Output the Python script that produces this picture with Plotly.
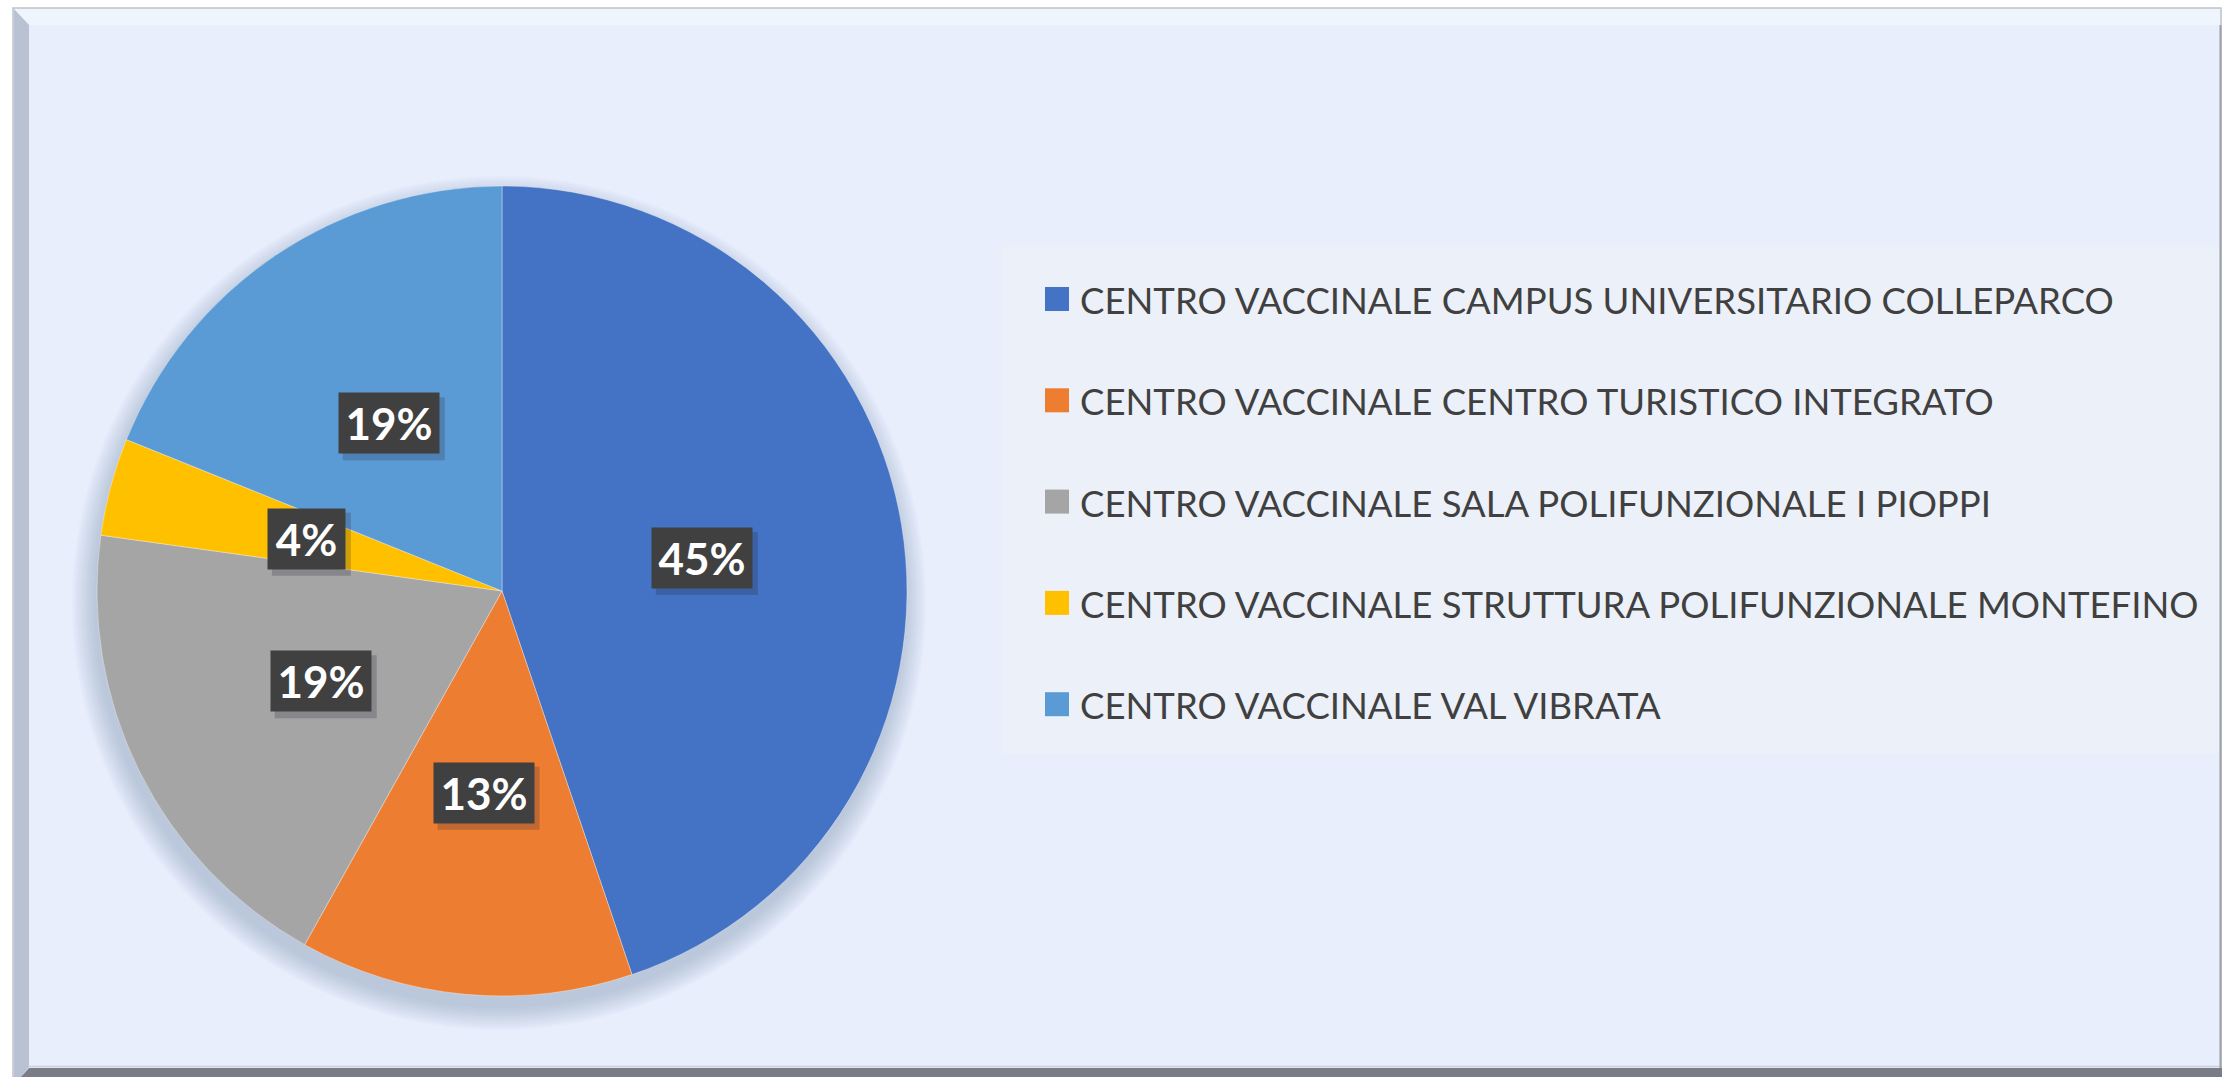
import math
import plotly.graph_objects as go

# ---------------- data ----------------
categories = [
    "CENTRO VACCINALE CAMPUS UNIVERSITARIO COLLEPARCO",
    "CENTRO VACCINALE CENTRO TURISTICO INTEGRATO",
    "CENTRO VACCINALE SALA POLIFUNZIONALE I PIOPPI",
    "CENTRO VACCINALE STRUTTURA POLIFUNZIONALE MONTEFINO",
    "CENTRO VACCINALE VAL VIBRATA",
]
shares = [44.8, 13.3, 19.1, 3.9, 18.9]
colors = ["#4472C4", "#ED7D31", "#A5A5A5", "#FFC000", "#5B9BD5"]

# ---------------- geometry helpers ----------------
W, H = 2222, 1077


def px(x):
    return x / W


def py(y):
    return 1 - y / H


CX, CY, R = 502, 591, 405  # pie centre / radius in pixels

fig = go.Figure()
fig.add_trace(
    go.Pie(
        values=shares,
        labels=categories,
        marker=dict(colors=colors, line=dict(color="rgba(255,255,255,0.35)", width=1)),
        sort=False,
        direction="clockwise",
        rotation=0,
        textinfo="none",
        hoverinfo="label+percent",
        showlegend=False,
        domain=dict(x=[px(CX - R), px(CX + R)], y=[py(CY + R), py(CY - R)]),
    )
)

shapes = []
# outer frame
shapes.append(dict(type="rect", xref="paper", yref="paper", x0=px(13), x1=px(2221), y0=py(1077), y1=py(8),
                   fillcolor="#E8EEFC", line=dict(color="#BFC3CA", width=1.5), layer="below"))
# top bevel
shapes.append(dict(type="path", xref="paper", yref="paper",
                   path=f"M {px(14)} {py(9)} L {px(2220)} {py(9)} L {px(2220)} {py(25)} L {px(30)} {py(25)} Z",
                   fillcolor="#EEF5FD", line=dict(width=0), layer="below"))
# left bevel
shapes.append(dict(type="path", xref="paper", yref="paper",
                   path=f"M {px(14)} {py(9)} L {px(29)} {py(25)} L {px(29)} {py(1067)} L {px(21)} {py(1077)} L {px(14)} {py(1077)} Z",
                   fillcolor="#B9C2D2", line=dict(width=0), layer="below"))
# bottom dark bevel
shapes.append(dict(type="path", xref="paper", yref="paper",
                   path=f"M {px(21)} {py(1077)} L {px(29)} {py(1068)} L {px(2222)} {py(1068)} L {px(2222)} {py(1077)} Z",
                   fillcolor="#7A7D85", line=dict(width=0), layer="below"))
shapes.append(dict(type="line", xref="paper", yref="paper", x0=px(29), x1=px(2220), y0=py(1066.5), y1=py(1066.5),
                   line=dict(color="#C9D0DC", width=1.5), layer="below"))
# right edge line
shapes.append(dict(type="line", xref="paper", yref="paper", x0=px(2220.5), x1=px(2220.5), y0=py(25), y1=py(1068),
                   line=dict(color="#9AA0AA", width=2), layer="below"))
# legend box
shapes.append(dict(type="rect", xref="paper", yref="paper", x0=px(1002), x1=px(2219), y0=py(754), y1=py(247),
                   fillcolor="#ECF0F9", line=dict(width=0), layer="below"))
# soft pie shadow (offset downwards)
for k in range(12):
    rr = R + 22 - 2 * k
    shapes.append(dict(type="circle", xref="paper", yref="paper",
                       x0=px(CX - rr - 3), x1=px(CX + rr - 3), y0=py(CY + 12 + rr), y1=py(CY + 12 - rr),
                       fillcolor="rgba(120,135,170,0.035)", line=dict(width=0), layer="below"))

annotations = []
# legend (custom, large swatches)
row0, step = 299, 101.3
for i, (cat, col) in enumerate(zip(categories, colors)):
    yc = row0 + i * step
    shapes.append(dict(type="rect", xref="paper", yref="paper", x0=px(1045), x1=px(1069),
                       y0=py(yc + 12), y1=py(yc - 12), fillcolor=col, line=dict(width=0)))
    annotations.append(dict(x=px(1078), y=py(yc + 1), xref="paper", yref="paper", text=cat, showarrow=False,
                            xanchor="left", yanchor="middle",
                            font=dict(family="Lato, Carlito, Calibri, sans-serif", size=36.5, color="#404040")))

# data labels (percent) placed at half radius along each slice's mid angle
total = sum(shares)
cum = 0.0
for v in shares:
    mid = (cum + v / 2) / total * 2 * math.pi
    cum += v
    lx = CX + 0.5 * R * math.sin(mid)
    ly = CY - 0.5 * R * math.cos(mid)
    label = f"{round(v / total * 100)}%"
    bw = 100 if len(label) >= 3 else 77
    bh = 60
    # drop shadow of the label box
    shapes.append(dict(type="rect", xref="paper", yref="paper",
                       x0=px(lx - bw / 2 + 4), x1=px(lx + bw / 2 + 6), y0=py(ly + bh / 2 + 7), y1=py(ly - bh / 2 + 4),
                       fillcolor="rgba(30,30,50,0.22)", line=dict(width=0)))
    annotations.append(dict(x=px(lx), y=py(ly), xref="paper", yref="paper", text=f"<b>{label}</b>", showarrow=False,
                            xanchor="center", yanchor="middle", width=bw - 12, height=bh - 12,
                            font=dict(family="Lato, sans-serif", size=44, color="#FFFFFF"),
                            bgcolor="#404040", borderpad=6))

fig.update_layout(
    width=W,
    height=H,
    margin=dict(l=0, r=0, t=0, b=0),
    paper_bgcolor="#FFFFFF",
    plot_bgcolor="rgba(0,0,0,0)",
    shapes=shapes,
    annotations=annotations,
    showlegend=False,
)

fig.write_html("out.html", config={"displayModeBar": False},
               post_script="document.body.style.margin='0';document.body.style.overflow='hidden';")
